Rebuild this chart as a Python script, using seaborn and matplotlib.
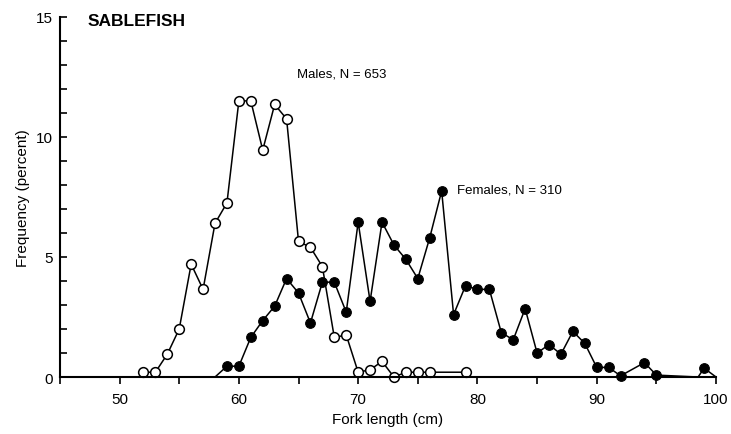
import numpy as np
import pandas as pd
import seaborn as sns
import matplotlib.pyplot as plt
from matplotlib.ticker import MultipleLocator

# Males (open circles)
male_length = [52, 53, 54, 55, 56, 57, 58, 59, 60, 61, 62, 63, 64, 65, 66, 67,
               68, 69, 70, 71, 72, 73, 74, 75, 76, 79]
male_freq = [0.2, 0.2, 0.95, 2.0, 4.7, 3.65, 6.4, 7.25, 11.5, 11.5, 9.45, 11.35,
             10.75, 5.65, 5.4, 4.6, 1.65, 1.75, 0.2, 0.3, 0.65, 0.0, 0.2, 0.2,
             0.2, 0.2]

# Females (filled circles); first and last two zero points carry no marker
female_length = [58, 59, 60, 61, 62, 63, 64, 65, 66, 67, 68, 69, 70, 71, 72,
                 73, 74, 75, 76, 77, 78, 79, 80, 81, 82, 83, 84, 85, 86, 87,
                 88, 89, 90, 91, 92, 94, 95, 98.5, 99, 100]
female_freq = [0.0, 0.45, 0.45, 1.65, 2.35, 2.95, 4.1, 3.5, 2.25, 3.95, 3.95,
               2.7, 6.45, 3.15, 6.45, 5.5, 4.9, 4.1, 5.8, 7.75, 2.6, 3.8, 3.65,
               3.65, 1.85, 1.55, 2.85, 1.0, 1.35, 0.95, 1.9, 1.4, 0.4, 0.4,
               0.05, 0.6, 0.08, 0.0, 0.37, 0.0]
female_unmarked = [58, 98.5, 100]

males = pd.DataFrame({"length": male_length, "freq": male_freq})
females = pd.DataFrame({"length": female_length, "freq": female_freq})
female_marks = [i for i, x in enumerate(female_length) if x not in female_unmarked]

sns.set_style("ticks")
plt.rcParams["font.family"] = ["Liberation Sans", "DejaVu Sans"]
for key in ["text.color", "axes.labelcolor", "xtick.color", "ytick.color",
            "axes.edgecolor"]:
    plt.rcParams[key] = "black"

fig = plt.figure(figsize=(7.31, 4.35), dpi=100)
ax = fig.add_axes([0.082, 0.131, 0.8975, 0.828])

sns.lineplot(data=males, x="length", y="freq", ax=ax, color="black",
             linewidth=1.1, marker="o", markersize=7, markerfacecolor="white",
             markeredgecolor="black", markeredgewidth=1.1, zorder=3)
sns.lineplot(data=females, x="length", y="freq", ax=ax, color="black",
             linewidth=1.1, marker="o", markersize=7, markerfacecolor="black",
             markeredgecolor="black", markevery=female_marks, zorder=3)

ax.set_xlim(45, 100)
ax.set_ylim(0, 15)
ax.xaxis.set_major_locator(MultipleLocator(10))
ax.xaxis.set_minor_locator(MultipleLocator(5))
ax.yaxis.set_major_locator(MultipleLocator(5))
ax.yaxis.set_minor_locator(MultipleLocator(1))
ax.tick_params(axis="x", which="both", direction="out", length=5, width=1.2,
               labelsize=11, pad=6)
ax.tick_params(axis="y", which="both", direction="in", length=5, width=1.2,
               labelsize=11, pad=5)
for s in ["top", "right"]:
    ax.spines[s].set_visible(False)
for s in ["left", "bottom"]:
    ax.spines[s].set_linewidth(1.5)
ax.spines["bottom"].set_zorder(4)

ax.set_xlabel("Fork length (cm)", fontsize=11)
ax.set_ylabel("Frequency (percent)", fontsize=11)
for line in ax.lines:
    line.set_clip_on(False)

ax.text(47.3, 14.85, "SABLEFISH", fontsize=12.5, fontweight="bold", va="center")
ax.text(64.9, 12.65, "Males, N = 653", fontsize=9.5, va="center")
ax.text(78.3, 7.8, "Females, N = 310", fontsize=9.5, va="center")

fig.savefig("out.png", dpi=100)
